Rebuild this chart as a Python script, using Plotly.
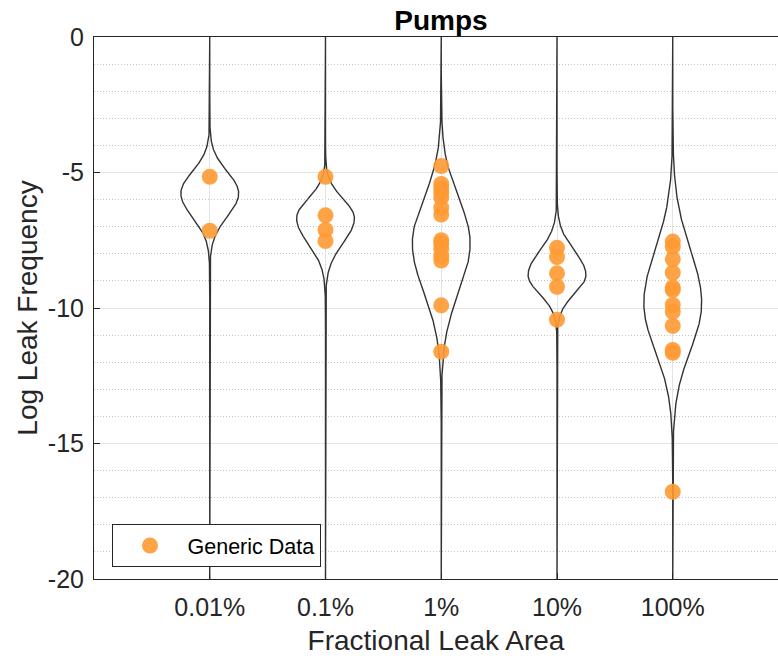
import numpy as np
import plotly.graph_objects as go

# Leak-area categories along the x axis
CATEGORIES = ["0.01%", "0.1%", "1%", "10%", "100%"]

# Generic data points (log10 leak frequency) for each leak-area category
DATA_0_01 = [-5.16, -7.15]
DATA_0_1 = [-5.16, -6.58, -7.12, -7.53]
DATA_1 = [-4.76, -5.42, -5.58, -5.75, -5.92, -6.30, -6.55, -7.50, -7.62,
          -7.82, -8.08, -8.25, -9.90, -11.61]
DATA_10 = [-7.78, -8.12, -8.72, -9.22, -10.43]
DATA_100 = [-7.55, -7.74, -8.20, -8.70, -9.24, -9.34, -9.89, -10.14, -10.66,
            -11.55, -11.65, -16.78]

# Distribution shapes: mode and spread above / below the mode
VIOLIN_MODE = [-5.77, -6.69, -7.61, -8.78, -9.83]
VIOLIN_SPREAD_UPPER = [0.80, 0.72, 1.65, 0.88, 2.00]
VIOLIN_SPREAD_LOWER = [0.86, 0.92, 1.80, 0.70, 1.75]

Y_TICKS = [0, -5, -10, -15, -20]
Y_TICK_LABELS = ["0", "-5", "-10", "-15", "-20"]

FONT = "Liberation Sans, Arial, Helvetica, sans-serif"
AXIS_COLOR = "#262626"
DOT_COLOR = "#FF9933"
VIOLIN_HALF_WIDTH = 0.25

fig = go.Figure()

# Violin outlines spanning the full y range
y_grid = np.linspace(-20, 0, 1601)
for i, (mode, s_up, s_lo) in enumerate(zip(VIOLIN_MODE, VIOLIN_SPREAD_UPPER,
                                           VIOLIN_SPREAD_LOWER)):
    pos = i + 1
    spread = np.where(y_grid > mode, s_up, s_lo)
    density = np.exp(-0.5 * ((y_grid - mode) / spread) ** 2)
    half = VIOLIN_HALF_WIDTH * density
    xs = np.concatenate([pos + half, (pos - half)[::-1]])
    ys = np.concatenate([y_grid, y_grid[::-1]])
    fig.add_trace(go.Scatter(
        x=xs, y=ys, mode="lines",
        line=dict(color="#333333", width=1.4),
        hoverinfo="skip", showlegend=False,
    ))

# Generic data markers
all_series = [DATA_0_01, DATA_0_1, DATA_1, DATA_10, DATA_100]
dot_x, dot_y = [], []
for i, series in enumerate(all_series):
    dot_x.extend([i + 1] * len(series))
    dot_y.extend(series)

fig.add_trace(go.Scatter(
    x=dot_x, y=dot_y, mode="markers", name="Generic Data",
    marker=dict(color=DOT_COLOR, size=16, opacity=0.9, line=dict(width=0)),
))

plot_left, plot_top, plot_bottom, W, H = 94, 37, 579, 778, 659
px_per_unit = (673 - 210) / 4.0
x_max = (W - plot_left) / px_per_unit

fig.update_layout(
    width=W, height=H,
    margin=dict(l=plot_left, r=0, t=plot_top, b=H - plot_bottom),
    paper_bgcolor="white", plot_bgcolor="white",
    font=dict(family=FONT, color=AXIS_COLOR),
    title=dict(text="<b>Pumps</b>", x=(plot_left + W + 10) / 2 / W, xanchor="center",
               y=1 - 20 / H, yanchor="middle", yref="container",
               font=dict(size=28, color="black", family=FONT)),
    xaxis=dict(
        range=[0, x_max], tickvals=list(range(1, 6)), ticktext=CATEGORIES,
        showgrid=True, gridcolor="#e3e3e3", gridwidth=1,
        showline=True, linecolor=AXIS_COLOR, linewidth=1, mirror=True,
        ticks="inside", ticklen=6, tickcolor=AXIS_COLOR,
        tickfont=dict(size=25, color=AXIS_COLOR),
        ticklabelstandoff=6,
        title=dict(text="Fractional Leak Area", font=dict(size=28, color=AXIS_COLOR),
                   standoff=10),
        zeroline=False,
    ),
    yaxis=dict(
        range=[-20, 0], tickvals=Y_TICKS, ticktext=Y_TICK_LABELS,
        showgrid=True, gridcolor="#e3e3e3", gridwidth=1,
        minor=dict(dtick=1, showgrid=True, gridcolor="#c4c4c4", griddash="1px,2px",
                   gridwidth=1, ticks=""),
        showline=True, linecolor=AXIS_COLOR, linewidth=1, mirror=False,
        ticks="inside", ticklen=6, tickcolor=AXIS_COLOR,
        tickfont=dict(size=25, color=AXIS_COLOR),
        ticklabelstandoff=4,
        title=dict(text="Log Leak Frequency", font=dict(size=28, color=AXIS_COLOR),
                   standoff=2),
        zeroline=False,
    ),
    legend=dict(
        x=(111.5 - plot_left) / (W - plot_left),
        y=(plot_bottom - 524.0) / (plot_bottom - plot_top),
        xanchor="left", yanchor="top",
        bgcolor="white", bordercolor=AXIS_COLOR, borderwidth=1,
        font=dict(size=21.5, color="black", family=FONT),
        itemwidth=65,
    ),
)

fig.write_html("out.html")
